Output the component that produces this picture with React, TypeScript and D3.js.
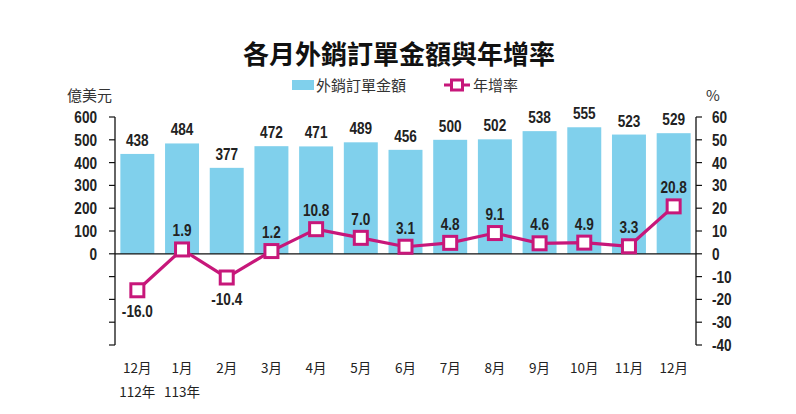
import React from 'react';
import * as d3 from 'd3';

// monthly export orders (100 million USD) and YoY growth (%)
const months = ['12月', '1月', '2月', '3月', '4月', '5月', '6月', '7月', '8月', '9月', '10月', '11月', '12月'];
const yearLabels = [{ idx: 0, text: '112年' }, { idx: 1, text: '113年' }];
const orders = [438, 484, 377, 472, 471, 489, 456, 500, 502, 538, 555, 523, 529];
const growth = [-16.0, 1.9, -10.4, 1.2, 10.8, 7.0, 3.1, 4.8, 9.1, 4.6, 4.9, 3.3, 20.8];
const leftTicks = [600, 500, 400, 300, 200, 100, 0, -100, -200, -300, -400];
const rightTicks = [60, 50, 40, 30, 20, 10, 0, -10, -20, -30, -40];

const W = 796;
const H = 414;
const left = 115;
const right = 696;
const top = 117;
const bottom = 345;

const BAR = '#80d0ec';
const LINE = '#c7177a';
const numFont = '"Liberation Sans", Arial, sans-serif';
const cjk = '"Noto Sans CJK TC", "Noto Sans", sans-serif';

// condensed bold number label
function Num(props: { x: number; y: number; anchor?: string; children: React.ReactNode }) {
  return (
    <text
      transform={`translate(${props.x},${props.y}) scale(0.8,1)`}
      textAnchor={props.anchor || 'middle'}
      fontFamily={numFont}
      fontWeight={700}
      fontSize={17}
      fill="#222"
    >
      {props.children}
    </text>
  );
}

export default function App() {
  const x = d3.scaleBand<number>()
    .domain(d3.range(months.length))
    .range([left, right])
    .paddingInner(0.24)
    .paddingOuter(0.12);
  const yL = d3.scaleLinear().domain([-400, 600]).range([bottom, top]);
  const yR = d3.scaleLinear().domain([-40, 60]).range([bottom, top]);
  const cx = (i: number) => (x(i) as number) + x.bandwidth() / 2;
  const line = d3.line<number>()
    .x((_, i) => cx(i))
    .y(d => yR(d));

  return (
    <svg width={W} height={H} style={{ position: 'absolute', left: 0, top: 0 }}>
      <rect width={W} height={H} fill="#fff" />
      <text x={399} y={64} textAnchor="middle" fontFamily={cjk} fontWeight={700} fontSize={26} fill="#111">
        各月外銷訂單金額與年增率
      </text>

      {/* legend */}
      <rect x={292} y={80} width={22} height={10} fill={BAR} />
      <text x={316} y={91} fontFamily={cjk} fontSize={15} fill="#333">外銷訂單金額</text>
      <line x1={444} x2={470} y1={85} y2={85} stroke={LINE} strokeWidth={3} />
      <rect x={451.5} y={80} width={11} height={10} fill="#fff" stroke={LINE} strokeWidth={3} />
      <text x={473} y={91} fontFamily={cjk} fontSize={15} fill="#333">年增率</text>

      <text x={67} y={101} fontFamily={cjk} fontSize={15} fill="#333">億美元</text>
      <text x={706} y={101} fontFamily={cjk} fontSize={15} fill="#333">%</text>

      {/* bars */}
      {orders.map((v, i) => (
        <g key={'b' + i}>
          <rect x={x(i)} y={yL(v)} width={x.bandwidth()} height={yL(0) - yL(v)} fill={BAR} />
          <Num x={cx(i)} y={yL(v) - 8}>{v}</Num>
        </g>
      ))}

      {/* zero line */}
      <line x1={left} x2={right} y1={yL(0)} y2={yL(0)} stroke="#111" strokeWidth={1.3} />

      {/* left axis */}
      <line x1={left} x2={left} y1={top} y2={bottom} stroke="#111" strokeWidth={1.3} />
      {leftTicks.map(t => (
        <g key={'l' + t}>
          <line x1={left - 6} x2={left} y1={yL(t)} y2={yL(t)} stroke="#111" strokeWidth={1.2} />
          {t >= 0 && <Num x={97} y={yL(t) + 6} anchor="end">{t}</Num>}
        </g>
      ))}

      {/* right axis */}
      <line x1={right} x2={right} y1={top} y2={bottom} stroke="#111" strokeWidth={1.3} />
      {rightTicks.map(t => (
        <g key={'r' + t}>
          <line x1={right} x2={right + 6} y1={yR(t)} y2={yR(t)} stroke="#111" strokeWidth={1.2} />
          <Num x={712} y={yR(t) + 6} anchor="start">{t}</Num>
        </g>
      ))}

      {/* growth line */}
      <path d={line(growth) || ''} fill="none" stroke={LINE} strokeWidth={3.2} />
      {growth.map((v, i) => (
        <g key={'p' + i}>
          <rect x={cx(i) - 6.5} y={yR(v) - 6.5} width={13} height={13} fill="#fff" stroke={LINE} strokeWidth={3} />
          <Num x={cx(i)} y={v < 0 ? yR(v) + 27 : yR(v) - 13}>{v.toFixed(1)}</Num>
        </g>
      ))}

      {/* category labels */}
      {months.map((m, i) => (
        <text key={'m' + i} x={cx(i)} y={373} textAnchor="middle" fontFamily={cjk} fontSize={13.5} fill="#222">
          {m}
        </text>
      ))}
      {yearLabels.map(d => (
        <text key={'y' + d.idx} x={cx(d.idx)} y={397} textAnchor="middle" fontFamily={cjk} fontSize={13.5} fill="#222">
          {d.text}
        </text>
      ))}
    </svg>
  );
}
